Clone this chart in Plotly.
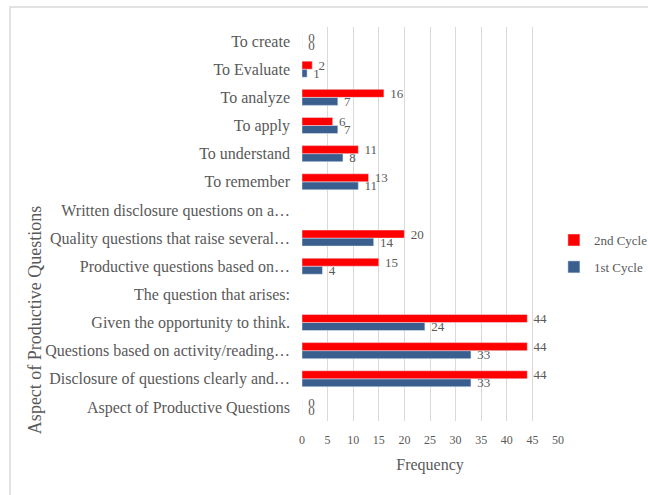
import plotly.graph_objects as go

categories = [
    "Aspect of Productive Questions",
    "Disclosure of questions clearly and…",
    "Questions based on activity/reading…",
    "Given the opportunity to think.",
    "The question that arises:",
    "Productive questions based on…",
    "Quality questions that raise several…",
    "Written disclosure questions on a…",
    "To remember",
    "To understand",
    "To apply",
    "To analyze",
    "To Evaluate",
    "To create",
]
cycle1 = [0, 33, 33, 24, None, 4, 14, None, 11, 8, 7, 7, 1, 0]
cycle2 = [0, 44, 44, 44, None, 15, 20, None, 13, 11, 6, 16, 2, 0]
x_ticks = [0, 5, 10, 15, 20, 25, 30, 35, 40, 45, 50]

FONT = "Liberation Serif, Times New Roman, serif"
GRAY = "#595959"


def labels(vals):
    return [("" if v is None else "\u00a0" + str(v)) for v in vals]


fig = go.Figure()
fig.add_trace(go.Bar(
    y=categories, x=cycle1, orientation="h", name="1st Cycle",
    marker_color="#3A5F8F", legendgroup="a", legendrank=2,
    text=labels(cycle1),
    textposition="outside", cliponaxis=False, constraintext="none",
    textfont=dict(family=FONT, size=13, color=GRAY),
))
fig.add_trace(go.Bar(
    y=categories, x=cycle2, orientation="h", name="2nd Cycle",
    marker_color="#FF0000", legendgroup="b", legendrank=1,
    text=labels(cycle2),
    textposition="outside", cliponaxis=False, constraintext="none",
    textfont=dict(family=FONT, size=13, color=GRAY),
))

fig.update_layout(
    width=648, height=495,
    margin=dict(l=302, r=90, t=27, b=74, autoexpand=False),
    paper_bgcolor="white", plot_bgcolor="white",
    barmode="group", bargap=0.43, bargroupgap=0,
    font=dict(family=FONT, color=GRAY),
    showlegend=True,
    legend=dict(traceorder="grouped", tracegroupgap=7,
                x=0.984, xanchor="left", y=0.425, yanchor="middle",
                font=dict(family=FONT, size=13, color=GRAY),
                itemwidth=30, bgcolor="rgba(0,0,0,0)"),
    xaxis=dict(range=[0, 50], tickvals=x_ticks, showgrid=True,
               gridcolor="#D9D9D9", gridwidth=1, zeroline=False,
               showline=False, ticks="", automargin=False,
               ticklabelstandoff=10,
               tickfont=dict(family=FONT, size=12, color=GRAY),
               title=dict(text="Frequency", standoff=12,
                          font=dict(family=FONT, size=16, color=GRAY))),
    yaxis=dict(showgrid=False, zeroline=False, showline=False, ticks="",
               ticklabelstandoff=11, automargin=False,
               tickfont=dict(family=FONT, size=16, color=GRAY)),
    annotations=[dict(text="Aspect of Productive Questions", textangle=-90,
                      xref="paper", yref="paper", x=-1.043, y=0.256,
                      xanchor="center", yanchor="middle",
                      showarrow=False,
                      font=dict(family=FONT, size=18, color=GRAY))],
    shapes=[dict(type="rect", xref="paper", yref="paper",
                 x0=-1.1406, x1=1.5, y0=-0.3, y1=1.0508,
                 line=dict(color="#D9D9D9", width=1.5),
                 fillcolor="rgba(0,0,0,0)", layer="below")],
)

fig.write_html("out.html", config={"displayModeBar": False},
               post_script="document.body.style.margin='0px';")
